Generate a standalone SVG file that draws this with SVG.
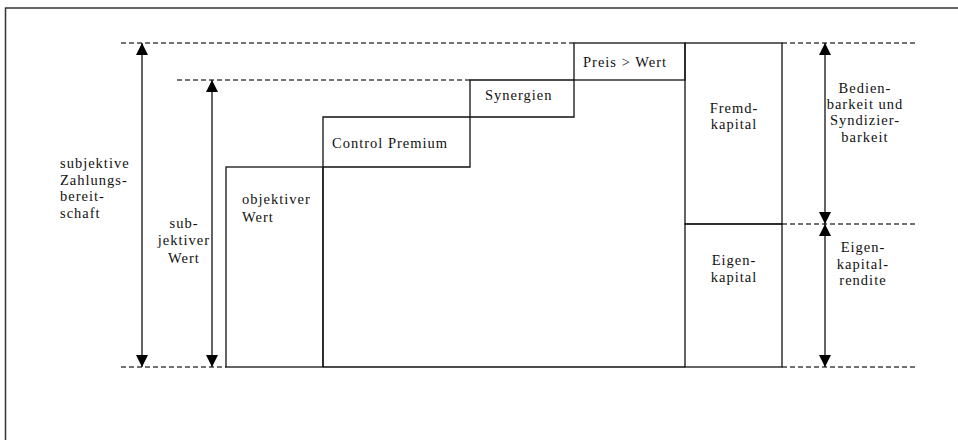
<svg xmlns="http://www.w3.org/2000/svg" width="958" height="440" viewBox="0 0 958 440">
<style>
.frame{fill:none;stroke:#333;stroke-width:1.5}
.box{fill:none;stroke:#111;stroke-width:1.3}
.dash{fill:none;stroke:#444;stroke-width:1.3;stroke-dasharray:5,3}
.arr{fill:none;stroke:#111;stroke-width:1.3;marker-start:url(#ah);marker-end:url(#ah)}
text{font-family:"Liberation Serif","Times New Roman",Tinos,serif;font-size:14.5px;letter-spacing:1px;fill:#111}
.c{text-anchor:middle}
</style>
<defs>
<marker id="ah" viewBox="0 0 12 12" refX="12" refY="6" markerWidth="12" markerHeight="12" markerUnits="userSpaceOnUse" orient="auto-start-reverse">
<path d="M0,0 L12,6 L0,12 Z" fill="#000"/>
</marker>
</defs>
<polyline class="frame" points="5.5,440 5.5,8 958,8"/>
<g id="guides">
<line class="dash" x1="121" y1="43" x2="574" y2="43"/>
<line class="dash" x1="782" y1="43" x2="915" y2="43"/>
<line class="dash" x1="177" y1="80" x2="470" y2="80"/>
<line class="dash" x1="782" y1="224" x2="915" y2="224"/>
<line class="dash" x1="121" y1="367" x2="226" y2="367"/>
<line class="dash" x1="782" y1="367" x2="915" y2="367"/>
</g>
<g id="objektiver-wert">
<rect class="box" x="226" y="167" width="97" height="200"/>
<text x="242" y="204">objektiver</text>
<text x="242" y="221.5">Wert</text>
</g>
<g id="control-premium">
<polyline class="box" points="323,367 323,117 470,117 470,167 323,167"/>
<line class="box" x1="323" y1="367" x2="685" y2="367"/>
<text x="332" y="147.5">Control Premium</text>
</g>
<g id="synergien">
<polyline class="box" points="470,117 470,80 574,80 574,117 470,117"/>
<text x="485" y="100">Synergien</text>
</g>
<g id="preis-wert">
<rect class="box" x="574" y="43" width="111" height="37"/>
<text x="583" y="66.5">Preis &gt; Wert</text>
</g>
<g id="fremdkapital">
<rect class="box" x="685" y="43" width="97" height="181"/>
<text class="c" x="734" y="112.5">Fremd-</text>
<text class="c" x="734" y="128.5">kapital</text>
</g>
<g id="eigenkapital">
<rect class="box" x="685" y="224" width="97" height="143"/>
<text class="c" x="734" y="265">Eigen-</text>
<text class="c" x="734" y="281.5">kapital</text>
</g>
<g id="connectors">
<line class="arr" x1="142" y1="43" x2="142" y2="367"/>
<line class="arr" x1="212" y1="80" x2="212" y2="367"/>
<line class="arr" x1="825" y1="43" x2="825" y2="224"/>
<line class="arr" x1="825" y1="224" x2="825" y2="367"/>
</g>
<g id="label-zahlungsbereitschaft">
<text x="60" y="167.5">subjektive</text>
<text x="60" y="184.5">Zahlungs-</text>
<text x="60" y="201">bereit-</text>
<text x="60" y="217.5">schaft</text>
</g>
<g id="label-subjektiver-wert">
<text class="c" x="184" y="227.5">sub-</text>
<text class="c" x="184" y="245">jektiver</text>
<text class="c" x="184" y="262.5">Wert</text>
</g>
<g id="label-bedienbarkeit">
<text class="c" x="865" y="92.5">Bedien-</text>
<text class="c" x="865" y="108.5">barkeit und</text>
<text class="c" x="865" y="125">Syndizier-</text>
<text class="c" x="865" y="141.5">barkeit</text>
</g>
<g id="label-eigenkapitalrendite">
<text class="c" x="863" y="252">Eigen-</text>
<text class="c" x="863" y="268.5">kapital-</text>
<text class="c" x="863" y="285">rendite</text>
</g>
</svg>
